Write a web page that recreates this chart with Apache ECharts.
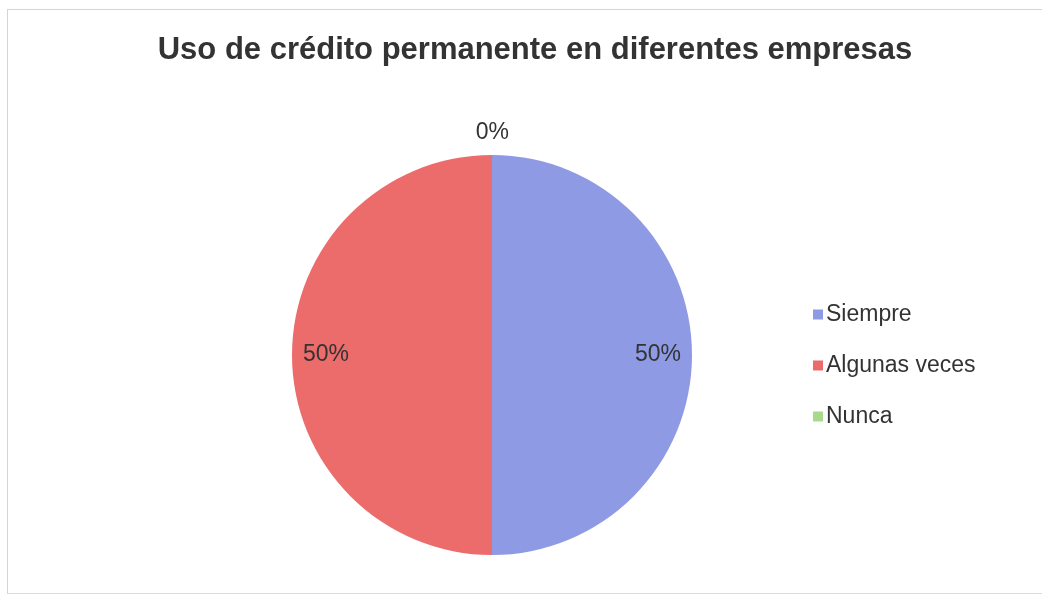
<!DOCTYPE html>
<html>
<head>
<meta charset="utf-8">
<script src="https://cdn.jsdelivr.net/npm/echarts@6/dist/echarts.min.js"></script>
<style>
html,body{margin:0;padding:0;background:#fff;}
#frame{position:absolute;left:7px;top:9px;width:1040px;height:583px;border-left:1px solid #d4d4d4;border-top:1px solid #d4d4d4;border-bottom:1px solid #dcdcdc;}
#chart{position:absolute;left:0;top:0;width:1042px;height:595px;}
</style>
</head>
<body>
<div id="frame"></div>
<div id="chart"></div>
<script>
const titleText = 'Uso de crédito permanente en diferentes empresas';
const categories = ['Siempre', 'Algunas veces', 'Nunca'];
const values = [50, 50, 0];
const colors = ['#8e9ae4', '#ec6b6b', '#a8d98c'];

const FONT = "'Liberation Sans', Arial, sans-serif";
const chart = echarts.init(document.getElementById('chart'), null, {renderer: 'canvas'});
const total = values.reduce((a, b) => a + b, 0);
const pct = v => Math.round(v / total * 100) + '%';

const mainData = categories.map((c, i) => ({
  name: c,
  value: values[i],
  itemStyle: {color: colors[i]},
  label: values[i] === 0 ? {show: true} : {show: false}
}));
const labelData = categories.map((c, i) => ({
  name: c,
  value: values[i],
  label: {show: values[i] !== 0}
}));

chart.setOption({
  backgroundColor: 'transparent',
  title: {
    text: titleText,
    left: 530,
    textAlign: 'center',
    top: 30,
    textStyle: {fontFamily: FONT, fontWeight: 'bold', fontSize: 31, color: '#333333'}
  },
  legend: {
    orient: 'vertical',
    left: 808,
    top: 297,
    itemWidth: 10,
    itemHeight: 10,
    itemGap: 26,
    icon: 'rect',
    data: categories,
    textStyle: {fontFamily: FONT, fontSize: 23, lineHeight: 25, color: '#333333', padding: [0, 0, 0, -2]}
  },
  series: [
    {
      type: 'pie',
      center: [492, 355],
      radius: [0, 200],
      startAngle: 90,
      clockwise: true,
      minShowLabelAngle: 0,
      avoidLabelOverlap: false,
      stillShowZeroSum: true,
      silent: true,
      label: {
        position: 'outside',
        formatter: p => pct(p.value),
        fontFamily: FONT,
        fontSize: 23,
        color: '#333333'
      },
      labelLine: {show: false, length: 22, length2: -22},
      data: mainData
    },
    {
      type: 'pie',
      center: [492, 355],
      radius: [0, 326],
      startAngle: 90,
      clockwise: true,
      silent: true,
      legendHoverLink: false,
      itemStyle: {color: 'rgba(0,0,0,0)'},
      label: {
        position: 'inside',
        formatter: p => pct(p.value),
        fontFamily: FONT,
        fontSize: 23,
        color: '#333333'
      },
      labelLine: {show: false},
      data: labelData
    }
  ]
});
</script>
</body>
</html>
